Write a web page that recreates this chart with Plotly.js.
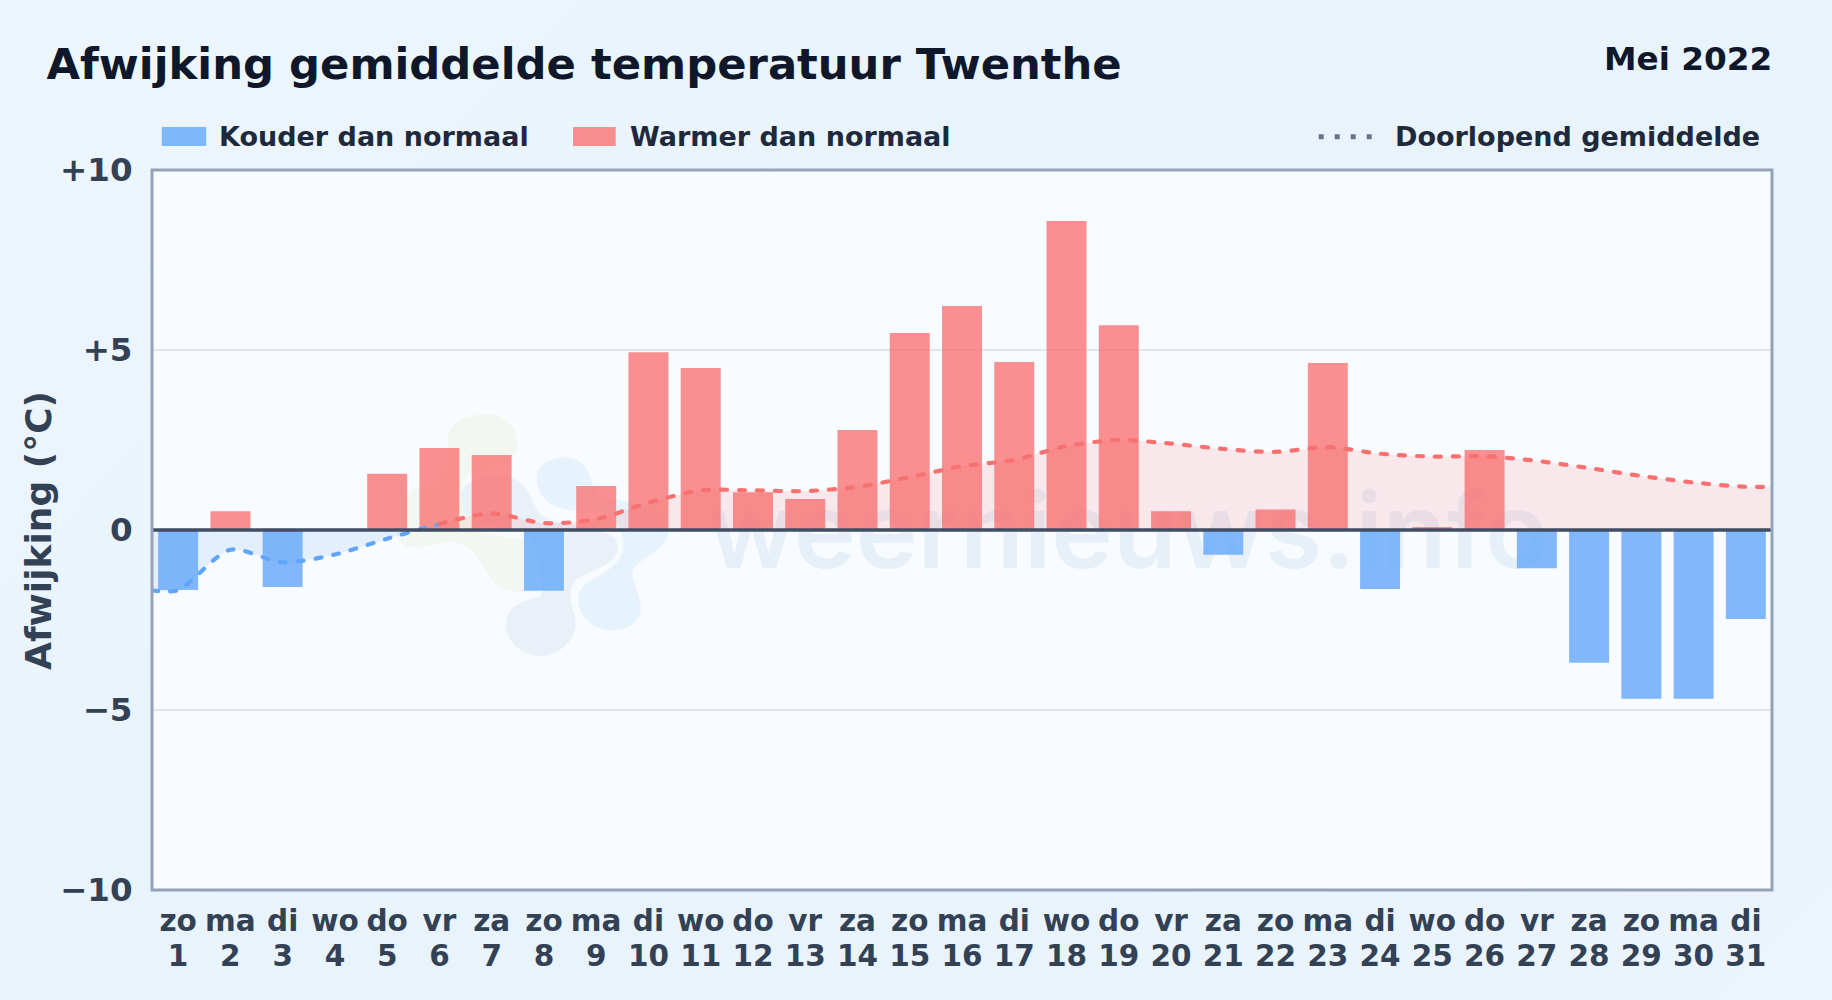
<!DOCTYPE html>
<html><head><meta charset="utf-8">
<script src="https://cdn.plot.ly/plotly-3.0.1.min.js"></script>
<style>
html,body{margin:0;padding:0;width:1832px;height:1000px;overflow:hidden;background:linear-gradient(135deg,#eef6fd 0%,#e8f3fc 40%,#e8f3fc 70%,#ecf4fd 100%);}
#chart{width:1832px;height:1000px;}
.scatterlayer .js-line{stroke-linecap:round;}
</style></head><body><div id="chart"></div>
<script>
const days=[1,2,3,4,5,6,7,8,9,10,11,12,13,14,15,16,17,18,19,20,21,22,23,24,25,26,27,28,29,30,31];
const weekdays=["zo","ma","di","wo","do","vr","za","zo","ma","di","wo","do","vr","za","zo","ma","di","wo","do","vr","za","zo","ma","di","wo","do","vr","za","zo","ma","di"];
const deviation=[-1.67,0.52,-1.58,0,1.56,2.28,2.08,-1.69,1.22,4.94,4.5,1.05,0.86,2.78,5.47,6.22,4.67,8.58,5.69,0.52,-0.69,0.57,4.64,-1.64,0.08,2.22,-1.06,-3.69,-4.69,-4.69,-2.47];
const coldMeanX=[0.5,1,2,3,4,5,6];
const coldMeanY=[-1.68,-1.67,-0.55,-0.9,-0.68,-0.24,0.17];
const warmMeanX=[6,7,8,9,10,11,12,13,14,15,16,17,18,19,20,21,22,23,24,25,26,27,28,29,30,31,31.5];
const warmMeanY=[0.17,0.46,0.19,0.3,0.76,1.1,1.1,1.08,1.2,1.47,1.77,1.95,2.33,2.5,2.4,2.25,2.17,2.3,2.12,2.04,2.05,1.92,1.72,1.5,1.32,1.2,1.2];
const yTickVals=[-10,-5,0,5,10];
const yTickText=["\u221210","\u22125","0","+5","+10"];
const titleText="Afwijking gemiddelde temperatuur Twenthe";
const periodText="Mei 2022";
const legendCold="Kouder dan normaal";
const legendWarm="Warmer dan normaal";
const legendMean="Doorlopend gemiddelde";
const yTitle="Afwijking (\u00b0C)";
const watermark="weernieuws.info";

const F="'DejaVu Sans',sans-serif";
const PL=152,PR=1771.7,PT=170,PB=890;
const X=p=>(p-PL)/(PR-PL), Y=p=>(PB-p)/(PB-PT);
function blob(cmds){
  return cmds.map(c=>c[0]+c.slice(1).map((v,i)=>i%2==0?X(380+v/3):Y(400+v/3)).join(' ')).join(' ')+' Z';
}
const green=blob([['M',205,100],['C',215,60,290,35,340,45],['C',395,55,420,110,410,150],['C',400,190,330,210,270,220],['C',235,235,235,320,290,390],
 ['C',360,420,420,410,470,420],['L',470,575],['C',400,585,350,570,320,520],['C',295,470,270,430,210,425],['C',170,430,130,445,100,442],['C',70,440,40,420,50,395],['L',75,300],['C',80,270,120,260,160,255],['C',190,240,205,180,205,100]]);
const gray=blob([['M',245,280],['C',250,240,340,210,400,235],['C',450,260,450,300,480,340],['C',520,385,710,370,715,440],['C',715,490,640,510,600,530],['C',570,550,560,580,585,650],
 ['C',600,720,530,770,480,768],['C',420,765,375,720,378,670],['C',382,610,440,600,480,590],['C',500,540,470,450,440,395],['C',380,385,320,375,270,355],['C',250,340,243,310,245,280]]);
const lblue=blob([['M',470,225],['C',475,180,560,155,600,185],['C',640,210,630,280,660,295],['C',730,295,870,330,865,400],['C',860,450,760,480,757,520],['C',760,560,790,600,780,640],['C',770,680,720,695,680,690],
 ['C',620,680,590,630,595,590],['C',600,540,680,530,715,480],['C',750,430,720,350,650,330],['C',590,335,540,330,510,310],['C',480,290,468,260,470,225]]);

const traces=[
 {type:'bar',x:days,y:deviation,width:0.765,marker:{color:deviation.map(v=>v<0?'rgba(96,165,250,0.78)':'rgba(248,113,113,0.78)'),line:{width:0}},hoverinfo:'x+y',showlegend:false},
 {type:'scatter',mode:'lines',x:coldMeanX,y:coldMeanY,line:{color:'#60a5fa',width:4.2,dash:'6px,12px',shape:'spline',smoothing:0.8},fill:'tozeroy',fillcolor:'rgba(96,165,250,0.13)',showlegend:false},
 {type:'scatter',mode:'lines',x:warmMeanX,y:warmMeanY,line:{color:'#f87171',width:4.2,dash:'6px,12px',shape:'spline',smoothing:0.8},fill:'tozeroy',fillcolor:'rgba(250,110,105,0.13)',showlegend:false},
 {type:'scatter',mode:'markers',x:days,y:days.map(()=>0),xaxis:'x2',marker:{opacity:0,size:1},hoverinfo:'skip',showlegend:false}
];
const tickFont={family:F,size:29.5,color:'#334155'};
const layout={
 width:1832,height:1000,
 paper_bgcolor:'rgba(0,0,0,0)',plot_bgcolor:'#f8fbff',
 margin:{l:PL,r:1832-PR,t:PT,b:1000-PB,pad:0},
 font:{family:F,color:'#334155'},
 title:{text:'<b>'+titleText+'</b>',font:{family:F,size:43.3,color:'#0f172a'},xref:'container',yref:'container',x:46.5/1832,xanchor:'left',y:1-64/1000,yanchor:'middle'},
 xaxis:{range:[0.5,31.5],tickmode:'array',tickvals:days,ticktext:days.map(d=>'<b>'+d+'</b>'),tickangle:0,
   tickfont:tickFont,showgrid:false,zeroline:false,showline:false,ticks:'outside',ticklen:40,tickcolor:'rgba(0,0,0,0)',automargin:false},
 xaxis2:{range:[0.5,31.5],overlaying:'x',anchor:'y',side:'bottom',tickmode:'array',tickvals:days,ticktext:weekdays.map(d=>'<b>'+d+'</b>'),tickangle:0,
   tickfont:tickFont,showgrid:false,zeroline:false,showline:false,ticks:'outside',ticklen:5,tickcolor:'rgba(0,0,0,0)',automargin:false},
 yaxis:{range:[-10,10],tickmode:'array',tickvals:yTickVals,ticktext:yTickText.map(t=>'<b>'+t+'</b>'),tickfont:{family:F,size:32.5,color:'#334155'},
   showgrid:true,gridcolor:'#dfe6ec',gridwidth:2,zeroline:false,showline:false,ticks:'outside',ticklen:12,tickcolor:'rgba(0,0,0,0)',automargin:false},
 showlegend:false,
 shapes:[
  {type:'path',xref:'paper',yref:'paper',layer:'below',path:green,fillcolor:'#f2f8f1',line:{width:0}},
  {type:'path',xref:'paper',yref:'paper',layer:'below',path:gray,fillcolor:'#e9f0f8',line:{width:0}},
  {type:'path',xref:'paper',yref:'paper',layer:'below',path:lblue,fillcolor:'#e6f3fd',line:{width:0}},
  {type:'rect',xref:'paper',yref:'paper',layer:'below',x0:X(693),x1:X(1563),y0:Y(596),y1:Y(456),fillcolor:'rgba(0,0,0,0)',line:{width:0},
   label:{text:watermark,font:{family:"Inter,sans-serif",size:104.5,color:'#e7eff8',weight:600},textposition:'middle center'}},
  {type:'line',xref:'paper',yref:'y',layer:'above',x0:0,x1:1,y0:0,y1:0,line:{color:'#414d62',width:3.4}},
  {type:'rect',xref:'paper',yref:'paper',layer:'above',x0:0,x1:1,y0:0,y1:1,fillcolor:'rgba(0,0,0,0)',line:{color:'#94a3b8',width:3}},
  {type:'rect',xref:'paper',yref:'paper',x0:X(161.8),x1:X(206.2),y0:Y(146),y1:Y(127),fillcolor:'rgba(96,165,250,0.78)',line:{width:0}},
  {type:'rect',xref:'paper',yref:'paper',x0:X(573),x1:X(615.6),y0:Y(146),y1:Y(127),fillcolor:'rgba(248,113,113,0.78)',line:{width:0}},
  {type:'line',xref:'paper',yref:'paper',x0:X(1318.5),x1:X(1375.5),y0:Y(136.7),y1:Y(136.7),line:{color:'#64748b',width:5,dash:'5px,11px'}}
 ],
 annotations:[
  {text:'<b>'+yTitle+'</b>',xref:'paper',yref:'paper',x:X(38),y:Y(530),xanchor:'center',yanchor:'middle',textangle:-90,showarrow:false,font:{family:F,size:36,color:'#334155'}},
  {text:'<b>'+periodText+'</b>',xref:'paper',yref:'paper',x:X(1773.5),y:Y(59),xanchor:'right',yanchor:'middle',showarrow:false,font:{family:F,size:32.7,color:'#0f172a'}},
  {text:'<b>'+legendCold+'</b>',xref:'paper',yref:'paper',x:X(217),y:Y(137),xanchor:'left',yanchor:'middle',showarrow:false,font:{family:F,size:27,color:'#1e293b'}},
  {text:'<b>'+legendWarm+'</b>',xref:'paper',yref:'paper',x:X(628),y:Y(137),xanchor:'left',yanchor:'middle',showarrow:false,font:{family:F,size:27,color:'#1e293b'}},
  {text:'<b>'+legendMean+'</b>',xref:'paper',yref:'paper',x:X(1762),y:Y(137),xanchor:'right',yanchor:'middle',showarrow:false,font:{family:F,size:27,color:'#1e293b'}}
 ]
};
Plotly.newPlot('chart',traces,layout,{displayModeBar:false,staticPlot:true});
</script></body></html>
